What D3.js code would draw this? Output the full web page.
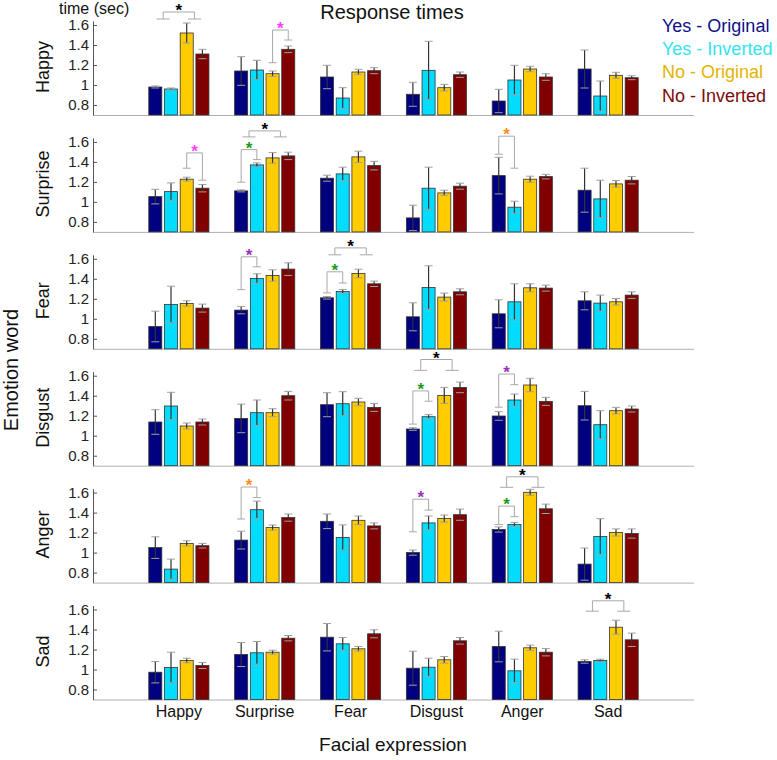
<!DOCTYPE html>
<html><head><meta charset="utf-8">
<script src="https://cdn.jsdelivr.net/npm/d3@7"></script>
<style>body{margin:0;background:#fff}svg{display:block;font-family:"Liberation Sans",Arial,sans-serif}</style>
</head><body><svg id="c" width="777" height="760"></svg>
<script>
const faces = ["Happy","Surprise","Fear","Disgust","Anger","Sad"];
const words = ["Happy","Surprise","Fear","Disgust","Anger","Sad"];
const series = ["Yes - Original","Yes - Inverted","No - Original","No - Inverted"];
const colors = ["#000080","#00DDFF","#FFCC00","#800000"];
const legendColors = ["#10108a","#33e3f0","#e3b400","#7d0a0a"];
const yTicks = [0.8,1,1.2,1.4,1.6];
const yTickLabels = ["0.8","1","1.2","1.4","1.6"];

// mean response time per emotion word row: 6 faces x 4 series
const rtHappy = [[0.98,0.96,1.52,1.31],[1.14,1.15,1.113,1.357],[1.08,0.87,1.13,1.143],[0.907,1.147,0.973,1.103],[0.84,1.05,1.16,1.08],[1.16,0.89,1.097,1.073]];
const errHappy = [[0.01,0.01,0.10,0.047],[0.143,0.097,0.027,0.033],[0.117,0.103,0.027,0.03],[0.12,0.29,0.033,0.027],[0.117,0.147,0.027,0.033],[0.19,0.15,0.03,0.02]];
const rtSurprise = [[1.053,1.103,1.227,1.137],[1.11,1.37,1.44,1.46],[1.237,1.28,1.45,1.363],[0.84,1.137,1.09,1.157],[1.263,0.947,1.227,1.253],[1.117,1.03,1.18,1.217]];
const errSurprise = [[0.073,0.087,0.02,0.037],[0.01,0.02,0.053,0.037],[0.03,0.067,0.057,0.043],[0.127,0.21,0.027,0.03],[0.183,0.06,0.03,0.023],[0.22,0.187,0.033,0.037]];
const rtFear = [[0.923,1.143,1.153,1.107],[1.087,1.403,1.433,1.497],[1.21,1.273,1.453,1.35],[1.02,1.313,1.217,1.27],[1.05,1.17,1.31,1.307],[1.18,1.157,1.17,1.237]];
const errFear = [[0.153,0.183,0.027,0.04],[0.037,0.047,0.057,0.063],[0.013,0.02,0.043,0.027],[0.14,0.217,0.04,0.03],[0.14,0.18,0.04,0.03],[0.09,0.08,0.033,0.033]];
const rtDisgust = [[1.137,1.297,1.097,1.137],[1.173,1.23,1.23,1.40],[1.31,1.32,1.337,1.283],[1.067,1.19,1.403,1.483],[1.197,1.357,1.507,1.343],[1.30,1.11,1.25,1.267]];
const errDisgust = [[0.123,0.137,0.03,0.03],[0.143,0.127,0.04,0.043],[0.12,0.12,0.037,0.04],[0.013,0.02,0.08,0.053],[0.043,0.06,0.067,0.04],[0.143,0.14,0.033,0.03]];
const rtAnger = [[1.05,0.835,1.092,1.069],[1.125,1.429,1.25,1.35],[1.313,1.152,1.323,1.267],[1.0,1.297,1.34,1.379],[1.231,1.28,1.603,1.438],[0.885,1.161,1.201,1.191]];
const errAnger = [[0.108,0.1,0.026,0.023],[0.089,0.086,0.026,0.036],[0.073,0.125,0.043,0.03],[0.026,0.069,0.036,0.056],[0.026,0.02,0.03,0.047],[0.161,0.178,0.036,0.046]];
const rtSad = [[0.973,1.02,1.09,1.04],[1.15,1.167,1.173,1.313],[1.323,1.257,1.207,1.357],[1.013,1.023,1.097,1.287],[1.23,0.987,1.217,1.173],[1.08,1.09,1.423,1.297]];
const errSad = [[0.107,0.153,0.023,0.03],[0.12,0.113,0.02,0.027],[0.137,0.063,0.023,0.04],[0.17,0.09,0.033,0.033],[0.153,0.117,0.027,0.037],[0.017,0.013,0.07,0.067]];

const rtRows = [rtHappy,rtSurprise,rtFear,rtDisgust,rtAnger,rtSad];
const errRows = [errHappy,errSurprise,errFear,errDisgust,errAnger,errSad];

// significance brackets: row, face, kind, star colour, left leg bottom, right leg bottom, top (data units)
const sigRow = [0,0,1,1,1,1,2,2,2,3,3,3,4,4,4,4,5];
const sigFace = [0,1,0,1,1,4,1,2,2,3,3,4,1,3,4,4,5];
const sigKind = ["pairs","b23","b23","pairs","b01","b01","b01","pairs","b01","pairs","b01","b01","b01","b01","pairs","b01","pairs"];
const sigColor = ["#000","#ff40ff","#ff40ff","#000","#1a9a1a","#ff8c1a","#9933bb","#000","#1a9a1a","#000","#1a9a1a","#9933bb","#ff8c1a","#9933bb","#000","#1a9a1a","#000"];
const sigLeft = [1.66,1.223,1.337,1.65,1.197,1.477,1.292,1.64,1.259,1.653,1.116,1.285,1.336,1.208,1.653,1.28,1.583];
const sigRight = [1.66,1.45,1.217,1.65,1.423,1.337,1.52,1.64,1.358,1.653,1.345,1.51,1.55,1.425,1.653,1.359,1.583];
const sigTop = [1.73,1.55,1.49,1.71,1.523,1.657,1.62,1.709,1.47,1.762,1.448,1.617,1.656,1.534,1.758,1.465,1.687];

const svg = d3.select("#c");
const x = d3.scaleBand().domain(faces).range([93,694]).paddingInner(0).paddingOuter(0.5);
const bw = x.bandwidth();
const xi = d3.scaleBand().domain(series).range([(bw-62.8)/2,(bw+62.8)/2]).paddingInner(0.17).paddingOuter(0.085);
const panelStep = 116.9;

words.forEach((w,r)=>{
  const bottom = 115 + r*panelStep;
  const y = d3.scaleLinear().domain([0.7,1.64]).range([bottom, bottom-94]);
  const g = svg.append("g");
  g.append("line").attr("x1",93).attr("x2",694).attr("y1",bottom+0.5).attr("y2",bottom+0.5).attr("stroke","#b0b0b0").attr("stroke-width",1);
  const rows = rtRows[r], errs = errRows[r];
  faces.forEach((f,fi)=>{
    series.forEach((s,si)=>{
      const v = rows[fi][si], e = errs[fi][si];
      const bx = x(f)+xi(s);
      g.append("rect").attr("x",bx).attr("y",y(v)).attr("width",xi.bandwidth()).attr("height",y(0.7)-y(v))
        .attr("fill",colors[si]).attr("stroke","#333").attr("stroke-width",0.8);
      const cx = bx + xi.bandwidth()/2;
      g.append("line").attr("x1",cx).attr("x2",cx).attr("y1",y(v-e)).attr("y2",y(v+e)).attr("stroke","#333").attr("stroke-width",1.2);
      [v-e,v+e].forEach(t=>{
        g.append("line").attr("x1",cx-4).attr("x2",cx+4).attr("y1",y(t)).attr("y2",y(t)).attr("stroke","#a0a0a0").attr("stroke-width",1);
      });
    });
  });
  const ax = g.append("g").attr("transform","translate(93,0)")
    .call(d3.axisLeft(y).tickValues(yTicks).tickFormat((d,i)=>yTickLabels[i]).tickSizeInner(-4).tickSizeOuter(0).tickPadding(4));
  ax.select(".domain").attr("stroke","#555");
  ax.selectAll(".tick line").attr("stroke","#555");
  ax.selectAll("text").attr("font-size",15).attr("fill","#222").attr("font-family","Liberation Sans, Arial, sans-serif");
  g.append("text").attr("transform",`translate(49,${y(1.18)}) rotate(-90)`).attr("text-anchor","middle")
    .attr("font-size",18).attr("fill","#111").text(w);
});

sigRow.forEach((r,k)=>{
  const bottom = 115 + r*panelStep;
  const y = d3.scaleLinear().domain([0.7,1.64]).range([bottom, bottom-94]);
  const f = faces[sigFace[k]];
  const c = i => x(f)+xi(series[i])+xi.bandwidth()/2;
  let xl, xr, capW;
  if (sigKind[k]==="pairs"){ xl=(c(0)+c(1))/2; xr=(c(2)+c(3))/2; capW=13; }
  else if (sigKind[k]==="b01"){ xl=c(0); xr=c(1); capW=8; }
  else { xl=c(2); xr=c(3); capW=8; }
  const yt = y(sigTop[k]), yl=y(sigLeft[k]), yr=y(sigRight[k]);
  const g = svg.append("g").attr("stroke","#a8a8a8").attr("stroke-width",1).attr("fill","none");
  g.append("path").attr("d",`M${xl},${yl}V${yt}H${xr}V${yr}`);
  g.append("line").attr("x1",xl-capW/2).attr("x2",xl+capW/2).attr("y1",yl).attr("y2",yl);
  g.append("line").attr("x1",xr-capW/2).attr("x2",xr+capW/2).attr("y1",yr).attr("y2",yr);
  svg.append("text").attr("x",(xl+xr)/2).attr("y",yt+4).attr("text-anchor","middle").attr("font-size",17).attr("font-weight","bold")
    .attr("fill",sigColor[k]).text("*");
});

svg.append("text").attr("x",392).attr("y",19).attr("text-anchor","middle").attr("font-size",20).attr("fill","#111").text("Response times");
svg.append("text").attr("x",59).attr("y",14).attr("font-size",16).attr("fill","#111").text("time (sec)");
svg.append("text").attr("transform","translate(18,370) rotate(-90)").attr("text-anchor","middle").attr("font-size",20).attr("fill","#111").text("Emotion word");
faces.forEach(f=>{
  svg.append("text").attr("x",x(f)+bw/2).attr("y",717).attr("text-anchor","middle").attr("font-size",16).attr("fill","#111").text(f);
});
svg.append("text").attr("x",393).attr("y",751).attr("text-anchor","middle").attr("font-size",19).attr("fill","#111").text("Facial expression");
series.forEach((s,i)=>{
  svg.append("text").attr("x",662).attr("y",31.7+i*23.3).attr("font-size",18).attr("fill",legendColors[i]).text(s);
});
</script></body></html>
